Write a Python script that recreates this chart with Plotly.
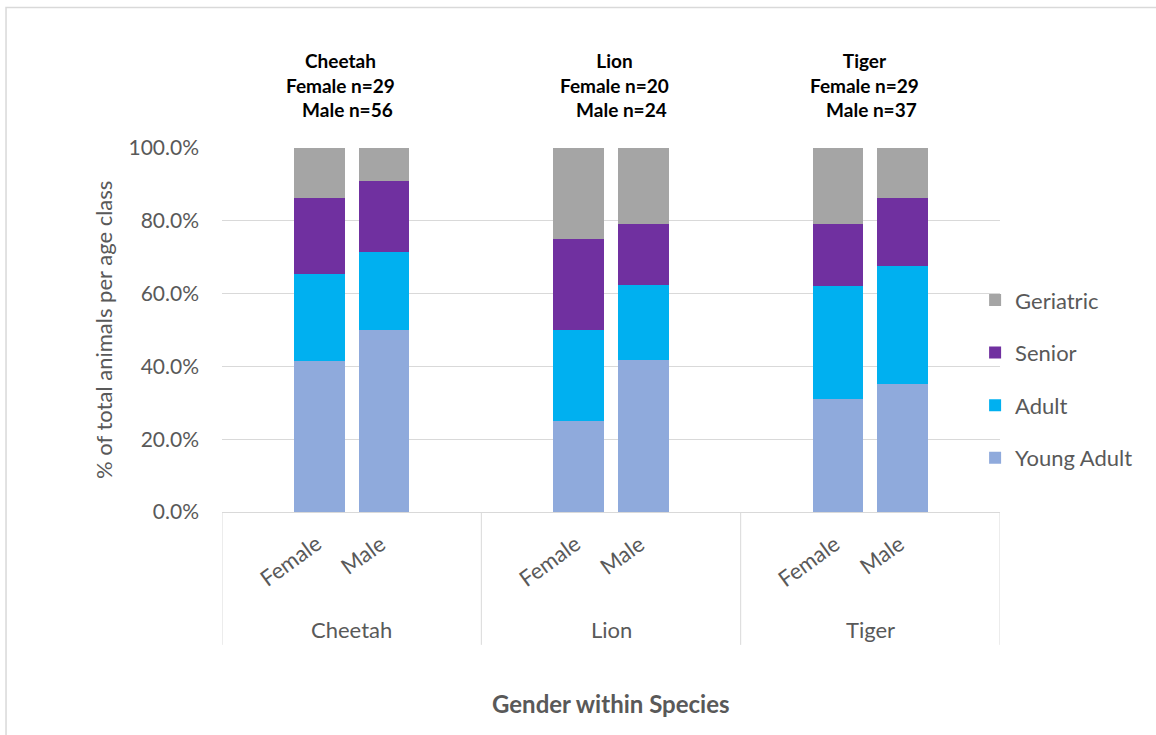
import plotly.graph_objects as go

# Share of animals in each age class (%), by species and gender
species = ["Cheetah", "Lion", "Tiger"]
genders = ["Female", "Male"]
counts_female = [29, 20, 29]
counts_male = [56, 24, 37]

age_classes = ["Young Adult", "Adult", "Senior", "Geriatric"]
# order within each list: Cheetah F, Cheetah M, Lion F, Lion M, Tiger F, Tiger M
young_adult = [41.4, 50.0, 25.0, 41.7, 31.0, 35.1]
adult = [24.1, 21.4, 25.0, 20.8, 31.0, 32.4]
senior = [20.7, 19.6, 25.0, 16.7, 17.2, 18.9]
geriatric = [13.8, 8.9, 25.0, 20.8, 20.7, 13.5]

colors = ["#8FAADC", "#00B0F0", "#7030A0", "#A5A5A5"]
series = [young_adult, adult, senior, geriatric]

FONT = "Lato, 'Open Sans', sans-serif"
GREY = "#595959"
LINE = "#D9D9D9"

# bar slots: each species occupies one unit on the x axis
slot_offset = {"Female": 0.375, "Male": 0.625}
header_x = [0.455, 1.512, 2.476]
xpos = [i + slot_offset[g] for i in range(len(species)) for g in genders]

fig = go.Figure()
for rank, (name, vals, col) in enumerate(zip(age_classes, series, colors)):
    fig.add_trace(go.Bar(
        x=xpos, y=vals, name=name, width=0.195,
        marker=dict(color=col, line=dict(width=0)),
        legendgroup=name, legendrank=len(age_classes) - rank,
    ))

annotations = []
shapes = []

# header above each species: name and sample sizes
for i, sp in enumerate(species):
    annotations.append(dict(
        x=header_x[i], xref="x", y=1.173, yref="paper",
        text=(f"{sp}<br>Female n={counts_female[i]}"
              f"<br>&nbsp;&nbsp;&nbsp;Male n={counts_male[i]}"),
        showarrow=False, xanchor="center", yanchor="middle",
        font=dict(family=FONT, size=19, color="#000000", weight="bold"),
    ))
    # species category label
    annotations.append(dict(
        x=i + 0.5, xref="x", y=-0.324, yref="paper", text=sp,
        showarrow=False, xanchor="center", yanchor="middle",
        font=dict(family=FONT, size=22, color=GREY),
    ))
    # rotated gender labels
    for g, sh, yy in [("Female", -29, -0.134), ("Male", -21, -0.118)]:
        annotations.append(dict(
            x=i + slot_offset[g], xref="x", y=yy, yref="paper", text=g,
            xshift=sh, showarrow=False, textangle=-36,
            xanchor="center", yanchor="middle",
            font=dict(family=FONT, size=22, color=GREY),
        ))

# category separators below the plot
for k in range(len(species) + 1):
    shapes.append(dict(type="line", xref="x", yref="paper", x0=k, x1=k,
                       y0=0, y1=-0.365, line=dict(color=LINE, width=1)))

# chart frame
shapes.append(dict(type="rect", xref="paper", yref="paper",
                   x0=-0.2776, x1=2.0, y0=-2.0, y1=1.386,
                   line=dict(color=LINE, width=1.5), layer="below"))

annotations.append(dict(
    x=0.5, xref="paper", y=-0.525, yref="paper", text="Gender within Species",
    showarrow=False, xanchor="center", yanchor="middle",
    font=dict(family=FONT, size=24, color=GREY, weight="bold"),
))
annotations.append(dict(
    x=-0.153, xref="paper", y=0.5, yref="paper",
    text="% of total animals per age class", textangle=-90,
    showarrow=False, xanchor="center", yanchor="middle",
    font=dict(family=FONT, size=22, color=GREY),
))

fig.update_layout(
    width=1156, height=735,
    margin=dict(l=222, r=156, t=148, b=223, autoexpand=False),
    paper_bgcolor="white", plot_bgcolor="white",
    barmode="stack",
    font=dict(family=FONT, color=GREY),
    annotations=annotations, shapes=shapes,
    showlegend=True,
    legend=dict(
        x=0.968, xanchor="left", y=0.365, yanchor="middle",
        traceorder="grouped", tracegroupgap=21,
        font=dict(family=FONT, size=22, color=GREY),
        bgcolor="rgba(0,0,0,0)",
    ),
    xaxis=dict(range=[0, 3], showgrid=False, zeroline=False, showline=False,
               showticklabels=False, ticks=""),
    yaxis=dict(range=[0, 100], dtick=20, tickformat=".1f", ticksuffix="%",
               showgrid=True, gridcolor=LINE, gridwidth=1,
               zeroline=True, zerolinecolor=LINE, zerolinewidth=1,
               showline=False, ticks="", ticklabelstandoff=22,
               tickfont=dict(family=FONT, size=21, color=GREY)),
)

fig.write_html("out.html")
